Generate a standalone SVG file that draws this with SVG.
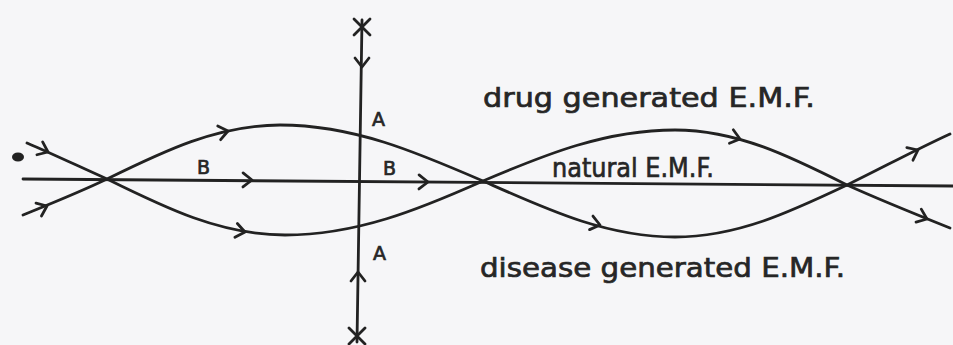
<svg xmlns="http://www.w3.org/2000/svg" width="953" height="345" viewBox="0 0 953 345">
<style>
.ln{fill:none;stroke:#222;stroke-width:2.8;stroke-linecap:round;stroke-linejoin:round}
.ch{fill:none;stroke:#222;stroke-width:2.8;stroke-linecap:round;stroke-linejoin:round}
.lbl{font-family:"DejaVu Sans","Liberation Sans",sans-serif;fill:#262626;stroke:#262626;stroke-width:0.7}
.big{font-size:27px}
.let{font-size:19px}
</style>
<defs>
<path id="chev" d="M -9,-7 L 0,0 L -9,7"/>
<path id="xm" d="M -8,-8 L 8,8 M 8,-8 L -8,8"/>
</defs>
<rect width="953" height="345" fill="#f6f6f8"/>
<g id="connectors">
<path id="natural-line" class="ln" d="M 23,179 L 953,186"/>
<path id="drug-curve" class="ln" d="M 23,215 C 50,204 80,192 107,179 C 163.4,151.3 217.4,125 280,125 C 353.5,125 416.8,152.3 483,181 C 545.6,208.7 605.5,237 675,237 C 737.2,237 790.9,211.6 847,185 C 880,169 915,150 950,134"/>
<path id="disease-curve" class="ln" d="M 27,143 C 55,155 80,167 107,179 C 165,207.7 220.6,235 285,235 C 356.7,235 418.4,209.7 483,181 C 545.6,154.4 605.5,130 675,130 C 737.2,130 790.9,156.8 847,185 C 880,200 915,214 950,228"/>
<path id="axis" class="ln" d="M 362,20 L 357,342"/>
<use href="#chev" class="ch" transform="translate(48,152) rotate(24)"/>
<use href="#chev" class="ch" transform="translate(47,206) rotate(-23)"/>
<use href="#chev" class="ch" transform="translate(252,180) rotate(0.5)"/>
<use href="#chev" class="ch" transform="translate(428,182) rotate(0.5)"/>
<use href="#chev" class="ch" transform="translate(228,131) rotate(-12)"/>
<use href="#chev" class="ch" transform="translate(245,232) rotate(10)"/>
<use href="#chev" class="ch" transform="translate(600,225) rotate(14)"/>
<use href="#chev" class="ch" transform="translate(740,139) rotate(16)"/>
<use href="#chev" class="ch" transform="translate(918,150) rotate(-26)"/>
<use href="#chev" class="ch" transform="translate(927,219) rotate(22)"/>
<use href="#chev" class="ch" transform="translate(362,67) rotate(90)"/>
<use href="#chev" class="ch" transform="translate(358,272) rotate(-90)"/>
</g>
<g id="pole-top"><use href="#xm" class="ch" transform="translate(362,27)"/></g>
<g id="pole-bottom"><use href="#xm" class="ch" transform="translate(357,336)"/></g>
<g id="dot"><ellipse cx="18" cy="157" rx="6" ry="4.5" fill="#222"/></g>
<g id="labels">
<text class="lbl let" x="372" y="126">A</text>
<text class="lbl let" x="373" y="260">A</text>
<text class="lbl let" x="197" y="174">B</text>
<text class="lbl let" x="383" y="175">B</text>
</g>
<g id="label-drug"><text class="lbl big" x="483" y="107" textLength="332" lengthAdjust="spacingAndGlyphs">drug  generated E.M.F.</text></g>
<g id="label-natural"><text class="lbl big" x="552" y="177" textLength="162" lengthAdjust="spacingAndGlyphs">natural E.M.F.</text></g>
<g id="label-disease"><text class="lbl big" x="480" y="277" textLength="365" lengthAdjust="spacingAndGlyphs">disease  generated E.M.F.</text></g>
</svg>
